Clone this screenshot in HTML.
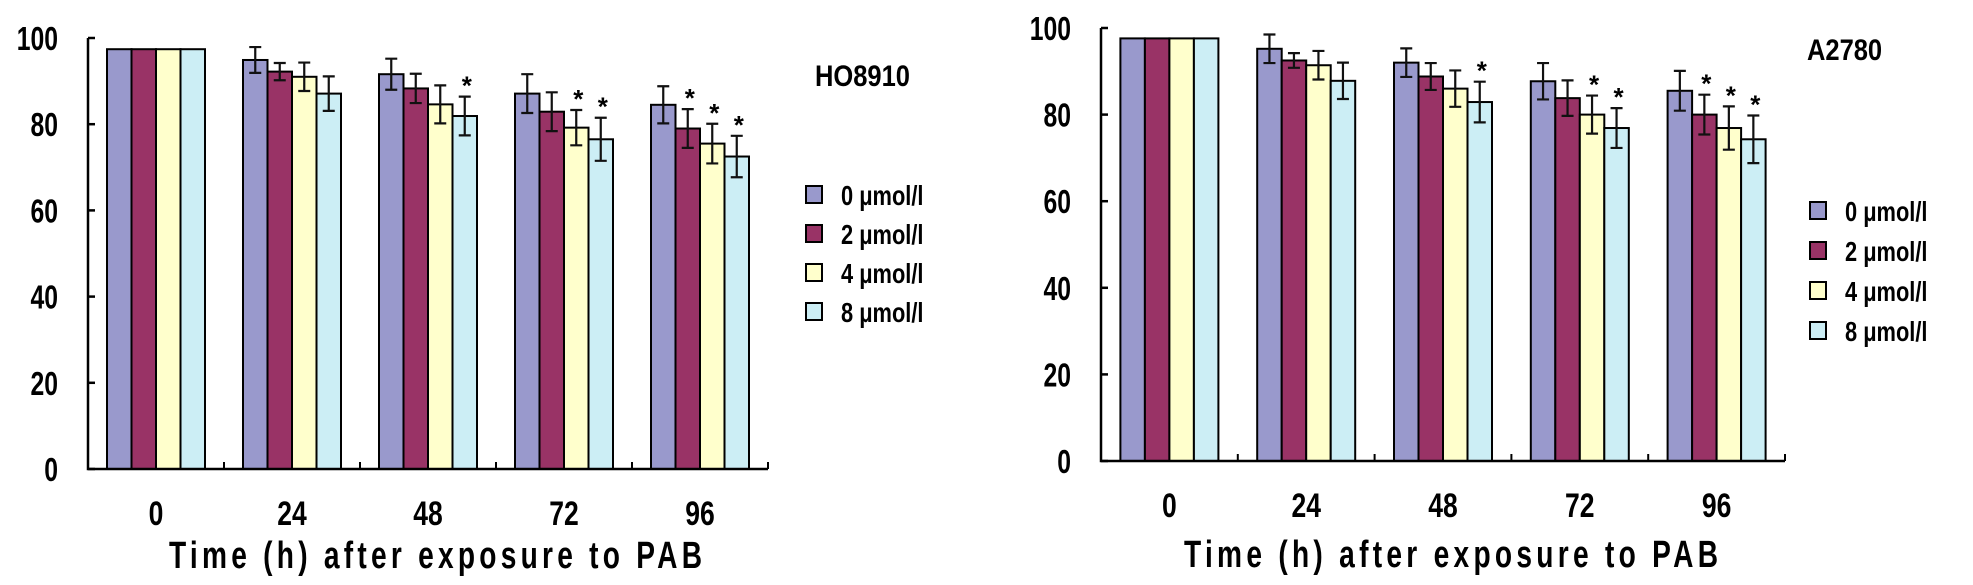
<!DOCTYPE html>
<html><head><meta charset="utf-8"><style>
html,body{margin:0;padding:0;background:#fff;width:1973px;height:585px;overflow:hidden}
svg text{font-family:"Liberation Sans",Arial,sans-serif;font-weight:bold;fill:#000}
</style></head><body>
<svg id="chart" width="1973" height="585" viewBox="0 0 1973 585" xmlns="http://www.w3.org/2000/svg"></svg>
<script>
const categories = ["0","24","48","72","96"];
const seriesNames = ["0 μmol/l","2 μmol/l","4 μmol/l","8 μmol/l"];
const yTicks = [0,20,40,60,80,100];
// HO8910
const hoVals = [
  [97.4,94.9,91.6,87.1,84.5],
  [97.4,92.2,88.3,82.9,79.0],
  [97.4,91.0,84.6,79.2,75.5],
  [97.4,87.1,81.9,76.5,72.5]
];
const hoErr = [
  [0,3.0,3.6,4.5,4.3],
  [0,2.0,3.4,4.5,4.5],
  [0,3.3,4.4,4.1,4.6],
  [0,4.0,4.5,5.0,4.8]
];
const hoStars = [
  [0,0,0,0,0],
  [0,0,0,0,1],
  [0,0,0,1,1],
  [0,0,1,1,1]
];
// A2780
const aVals = [
  [97.6,95.2,92.0,87.7,85.5],
  [97.6,92.5,88.8,83.8,80.0],
  [97.6,91.4,86.0,80.0,76.9],
  [97.6,87.8,82.9,76.9,74.3]
];
const aErr = [
  [0,3.3,3.3,4.2,4.6],
  [0,1.7,3.1,4.1,4.6],
  [0,3.3,4.2,4.4,5.0],
  [0,4.2,4.7,4.6,5.5]
];
const aStars = [
  [0,0,0,0,0],
  [0,0,0,0,1],
  [0,0,0,1,1],
  [0,0,1,1,1]
];
const colors = ["#9999CC","#993366","#FFFFCC","#CCEEF5"];

const NS="http://www.w3.org/2000/svg";
const svg=document.getElementById('chart');
function el(tag,attrs,parent,text){const e=document.createElementNS(NS,tag);for(const k in attrs)e.setAttribute(k,attrs[k]);if(text!==undefined)e.textContent=text;(parent||svg).appendChild(e);return e;}
function txt(parent,x,y,size,sx,anchor,s,extra){
  const a={x:0,y:0,'font-size':size,'text-anchor':anchor||'start',transform:`translate(${x},${y}) scale(${sx},1)`};
  if(extra)Object.assign(a,extra);
  return el('text',a,parent,s);
}

function drawChart(cfg,vals,errs,stars){
  const g=el('g',{});
  
  
  const y=v=>cfg.y0-(v/100)*(cfg.y0-cfg.y100);
  const cw=(cfg.x1-cfg.x0)/categories.length;
  const bw=24.5;
  vals.forEach((ser,si)=>{
    ser.forEach((v,ci)=>{
      const cx=cfg.x0+cw*(ci+0.5);
      const bx=cx-2*bw+si*bw;
      const r=el('rect',{x:bx,y:y(v),width:bw,height:cfg.y0-y(v),fill:colors[si],stroke:'#000','stroke-width':2},g);
      
      
      const e=errs[si][ci];
      const mx=bx+bw/2;
      if(e>0){
        const eg=el('path',{d:`M${mx},${y(v+e)}V${y(v-e)}M${mx-6},${y(v+e)}H${mx+6}M${mx-6},${y(v-e)}H${mx+6}`,stroke:'#111','stroke-width':2.2,fill:'none'},g);
        
        
      }
      if(stars[si][ci]){
        const s=el('text',{x:mx+2,y:y(v+e)-2,'text-anchor':'middle','font-size':26},g,'*');
        
        
      }
    });
  });
  const ax=el('path',{d:`M${cfg.x0},${cfg.y100}V${cfg.y0}H${cfg.x1}`,stroke:'#000','stroke-width':2.5,fill:'none'},g);
  
  
  yTicks.forEach(t=>{
    el('line',{x1:cfg.x0,x2:cfg.x0+7,y1:y(t),y2:y(t),stroke:'#000','stroke-width':2.5},g);
    const tl=txt(g,cfg.x0-30,y(t)+12,33,0.75,'end',String(t));
    
    
  });
  categories.forEach((c,ci)=>{
    const tx=cfg.x0+cw*(ci+1);
    el('line',{x1:tx,x2:tx,y1:cfg.y0,y2:cfg.y0-7,stroke:'#000','stroke-width':2},g);
    const tl=txt(g,cfg.x0+cw*(ci+0.5),cfg.y0+56,34,0.78,'middle',c);
    
    
  });
  const xt=txt(g,cfg.tx,cfg.ty,38,0.74,'start','Time (h) after exposure to PAB',{textLength:cfg.tw/0.74,lengthAdjust:'spacing'});
  
  
  const lt=txt(g,cfg.labX,cfg.labY,30,0.85,'start',cfg.label);
  
  
  seriesNames.forEach((n,si)=>{
    const ly=cfg.legY+si*cfg.legDy;
    const lg=el('g',{},g);
    
    
    el('rect',{x:cfg.legX,y:ly-9,width:16,height:17,fill:colors[si],stroke:'#000','stroke-width':2},lg);
    txt(lg,cfg.legX+35,ly+10,28,0.78,'start',n);
  });
}
drawChart({id:'ho8910',x0:88,x1:768,y0:469,y100:38,tx:169,ty:568,tw:533,label:'HO8910',labX:815,labY:86,legX:806,legY:195,legDy:39},hoVals,hoErr,hoStars);
drawChart({id:'a2780',x0:1101,x1:1785,y0:461,y100:28,tx:1184,ty:567,tw:534,label:'A2780',labX:1807,labY:60,legX:1810,legY:211,legDy:40},aVals,aErr,aStars);
</script>
</body></html>
